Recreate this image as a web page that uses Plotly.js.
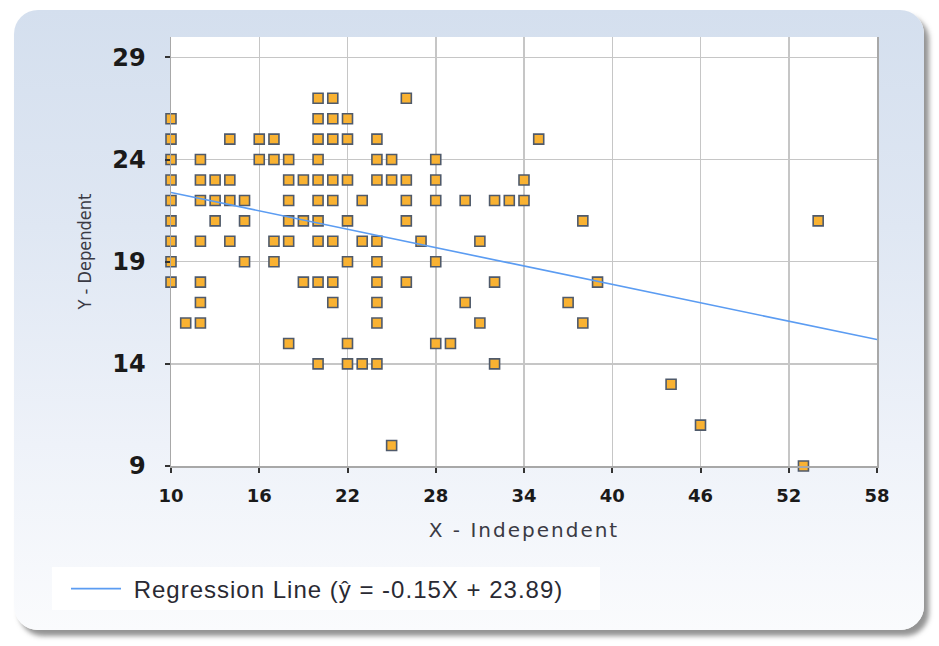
<!DOCTYPE html>
<html>
<head>
<meta charset="utf-8">
<script src="https://cdn.plot.ly/plotly-3.0.1.min.js"></script>
<style>
  html, body { margin: 0; padding: 0; background: #ffffff; width: 939px; height: 646px; overflow: hidden; }
  #panel {
    position: absolute; left: 14px; top: 10px; width: 910px; height: 620px;
    border-radius: 24px;
    background: linear-gradient(to bottom, #d4dfee 0%, #dfe7f3 35%, #eef2f9 70%, #fafbfd 100%);
    box-shadow: 5px 6px 5px rgba(60,60,60,0.55);
  }
  #chart { position: absolute; left: 0; top: 0; width: 939px; height: 646px; }
  #chart .legendtext { letter-spacing: 1px; }
  #chart .xtitle { letter-spacing: 2px; }
</style>
</head>
<body>
<div id="panel"></div>
<div id="chart"></div>
<script>
// Scatter data (X - Independent, Y - Dependent)
const xValues = [
  10,10,10,10,10,10,10,10,10,
  11,
  12,12,12,12,12,12,12,
  13,13,13,
  14,14,14,14,
  15,15,15,
  16,16,
  17,17,17,17,
  18,18,18,18,18,18,
  19,19,19,
  20,20,20,20,20,20,20,20,20,20,
  21,21,21,21,21,21,21,21,
  22,22,22,22,22,22,22,
  23,23,23,
  24,24,24,24,24,24,24,24,24,
  25,25,25,
  26,26,26,26,26,
  27,
  28,28,28,28,28,
  29,
  30,30,
  31,31,
  32,32,32,
  33,
  34,34,
  35,
  37,
  38,38,
  39,
  44,
  46,
  53,
  54
];
const yValues = [
  26,25,24,23,22,21,20,19,18,
  16,
  24,23,22,20,18,17,16,
  23,22,21,
  25,23,22,20,
  22,21,19,
  25,24,
  25,24,20,19,
  24,23,22,21,20,15,
  23,21,18,
  27,26,25,24,23,22,21,20,18,14,
  27,26,25,23,22,20,18,17,
  26,25,23,21,19,15,14,
  22,20,14,
  25,24,23,20,19,18,17,16,14,
  24,23,10,
  27,23,22,21,18,
  20,
  24,23,22,19,15,
  15,
  22,17,
  20,16,
  22,18,14,
  22,
  23,22,
  25,
  17,
  21,16,
  18,
  13,
  11,
  9,
  21
];
// Regression line from the legend: y = slope * x + intercept
const slope = -0.15;
const intercept = 23.89;
const lineX = [10, 58];
const lineY = lineX.map(x => slope * x + intercept);
const legendLabel = "Regression Line (ŷ = -0.15X + 23.89)";
const xTicks = [10, 16, 22, 28, 34, 40, 46, 52, 58];
const yTicks = [9, 14, 19, 24, 29];

const traces = [
  {
    x: xValues, y: yValues, type: "scatter", mode: "markers",
    showlegend: false, hoverinfo: "x+y", cliponaxis: false,
    marker: { symbol: "square", size: 10, color: "#f9b232",
              line: { color: "#4f5a6b", width: 1.6 } }
  },
  {
    x: lineX, y: lineY, type: "scatter", mode: "lines",
    name: "\u00a0" + legendLabel, showlegend: true,
    line: { color: "#5b9cf2", width: 1.6 }
  }
];

const plotL = 171, plotR = 62, plotT = 37, plotB = 180;
const plotW = 939 - plotL - plotR, plotH = 646 - plotT - plotB;
const px2x = p => (p - plotL) / plotW;
const py2y = p => (646 - plotB - p) / plotH;

const layout = {
  width: 939, height: 646,
  paper_bgcolor: "rgba(0,0,0,0)",
  plot_bgcolor: "#ffffff",
  margin: { l: plotL, r: plotR, t: plotT, b: plotB, pad: 0 },
  showlegend: true,
  legend: {
    orientation: "h", entrywidth: 500, entrywidthmode: "pixels",
    x: px2x(66), y: py2y(589), xanchor: "left", yanchor: "middle",
    xref: "paper", yref: "paper",
    bgcolor: "rgba(0,0,0,0)", borderwidth: 0,
    itemwidth: 50,
    font: { family: "Liberation Sans, Arial, sans-serif", size: 24, color: "#2a2a33" }
  },
  shapes: [
    { type: "rect", xref: "paper", yref: "paper", layer: "above",
      x0: px2x(52), x1: px2x(600), y0: py2y(610), y1: py2y(567),
      fillcolor: "#ffffff", line: { width: 0 } }
  ],
  xaxis: {
    range: [10, 58], tickvals: xTicks, ticktext: xTicks.map(String),
    showgrid: true, gridcolor: "#c6c6c6", gridwidth: 1.5,
    zeroline: false, showline: true, linecolor: "#a8a8a8", linewidth: 1.5,
    ticks: "outside", ticklen: 5, tickwidth: 2, tickcolor: "#333333",
    ticklabelstandoff: 8,
    tickfont: { family: "DejaVu Sans, sans-serif", size: 18, color: "#1a1a1a", weight: "bold" },
    title: { text: "X - Independent", standoff: 18,
             font: { family: "DejaVu Sans, sans-serif", size: 20, color: "#3a3a44" } }
  },
  yaxis: {
    range: [9, 30], tickvals: yTicks, ticktext: yTicks.map(String),
    showgrid: true, gridcolor: "#c6c6c6", gridwidth: 1.5,
    zeroline: false, showline: true, mirror: true, linecolor: "#a8a8a8", linewidth: 1.5,
    ticks: "outside", ticklen: 5, tickwidth: 2, tickcolor: "#333333",
    ticklabelstandoff: 14,
    tickfont: { family: "DejaVu Sans, sans-serif", size: 24, color: "#1a1a1a", weight: "bold" },
    title: { text: "Y - Dependent", standoff: 16,
             font: { family: "DejaVu Sans Condensed, sans-serif", size: 18, color: "#3a3a44" } }
  }
};

Plotly.newPlot("chart", traces, layout, { displayModeBar: false, staticPlot: true });
</script>
</body>
</html>
